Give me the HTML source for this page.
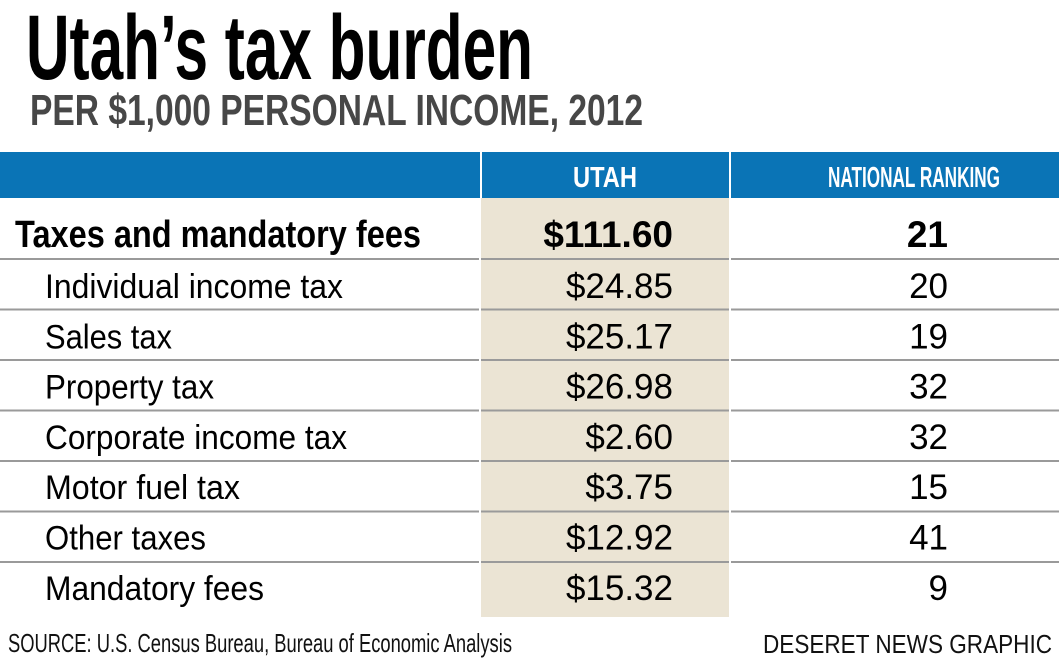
<!DOCTYPE html>
<html><head><meta charset="utf-8"><style>
html,body{margin:0;padding:0;background:#fff;}
svg{display:block;}
text{font-family:"Liberation Sans Narrow","Liberation Sans",sans-serif;}
</style></head><body>
<svg id="chart" width="1059" height="662" viewBox="0 0 1059 662" xmlns="http://www.w3.org/2000/svg">
<text x="26" y="79" font-size="92" font-weight="bold" fill="#000" textLength="507" lengthAdjust="spacingAndGlyphs">Utah’s tax burden</text>
<text x="30" y="125" font-size="44" font-weight="bold" fill="#474747" textLength="613" lengthAdjust="spacingAndGlyphs">PER $1,000 PERSONAL INCOME, 2012</text>
<rect x="481" y="198" width="248" height="419" fill="#ebe4d4"/>
<rect x="0" y="152" width="1059" height="46" fill="#0a74b6"/>
<rect x="480" y="152" width="2" height="46" fill="#fff"/>
<rect x="729" y="152" width="2" height="46" fill="#fff"/>
<text x="605" y="187" font-size="29" font-weight="bold" fill="#fff" text-anchor="middle" textLength="64" lengthAdjust="spacingAndGlyphs">UTAH</text>
<text x="914" y="187" font-size="29" font-weight="bold" fill="#fff" text-anchor="middle" textLength="172" lengthAdjust="spacingAndGlyphs">NATIONAL RANKING</text>
<g id="rows"></g>
<text x="8" y="652" font-size="26" fill="#111" textLength="504" lengthAdjust="spacingAndGlyphs">SOURCE: U.S. Census Bureau, Bureau of Economic Analysis</text>
<text x="763" y="653" font-size="26" fill="#111" textLength="289" lengthAdjust="spacingAndGlyphs">DESERET NEWS GRAPHIC</text>
</svg>
<script>
const categories = ["Taxes and mandatory fees","Individual income tax","Sales tax","Property tax","Corporate income tax","Motor fuel tax","Other taxes","Mandatory fees"];
const utahValues = [111.60,24.85,25.17,26.98,2.60,3.75,12.92,15.32];
const rankings = [21,20,19,32,32,15,41,9];
const labelWidths = [406,298,127,169,302,195,161,219];

const NS = "http://www.w3.org/2000/svg";
const g = document.getElementById("rows");
const rowY = i => i === 0 ? 247 : 298 + (i - 1) * 50.3;
const sepY = i => 258 + i * 50.5;

categories.forEach((c, i) => {
  const bold = i === 0;
  const lab = document.createElementNS(NS, "text");
  
  
  lab.setAttribute("x", bold ? 15 : 45);
  lab.setAttribute("y", rowY(i));
  lab.setAttribute("font-size", bold ? 38 : 34);
  if (bold) lab.setAttribute("font-weight", "bold");
  lab.setAttribute("textLength", labelWidths[i]);
  lab.setAttribute("lengthAdjust", "spacingAndGlyphs");
  lab.textContent = c;
  g.appendChild(lab);

  const v = document.createElementNS(NS, "text");
  
  
  v.setAttribute("x", 673);
  v.setAttribute("y", rowY(i));
  v.setAttribute("text-anchor", "end");
  v.setAttribute("font-size", bold ? 37 : 35);
  if (bold) v.setAttribute("font-weight", "bold");
  v.textContent = "$" + utahValues[i].toFixed(2);
  g.appendChild(v);

  const r = document.createElementNS(NS, "text");
  
  
  r.setAttribute("x", 948);
  r.setAttribute("y", rowY(i));
  r.setAttribute("text-anchor", "end");
  r.setAttribute("font-size", bold ? 37 : 35);
  if (bold) r.setAttribute("font-weight", "bold");
  r.textContent = rankings[i];
  g.appendChild(r);

  if (i < categories.length - 1) {
    [[0, 479], [481, 729], [731, 1059]].forEach(([a, b]) => {
      const l = document.createElementNS(NS, "rect");
      
      
      l.setAttribute("x", a);
      l.setAttribute("y", sepY(i));
      l.setAttribute("width", b - a);
      l.setAttribute("height", 2);
      l.setAttribute("fill", "#9a9a9a");
      g.appendChild(l);
    });
  }
});
</script>
</body></html>
